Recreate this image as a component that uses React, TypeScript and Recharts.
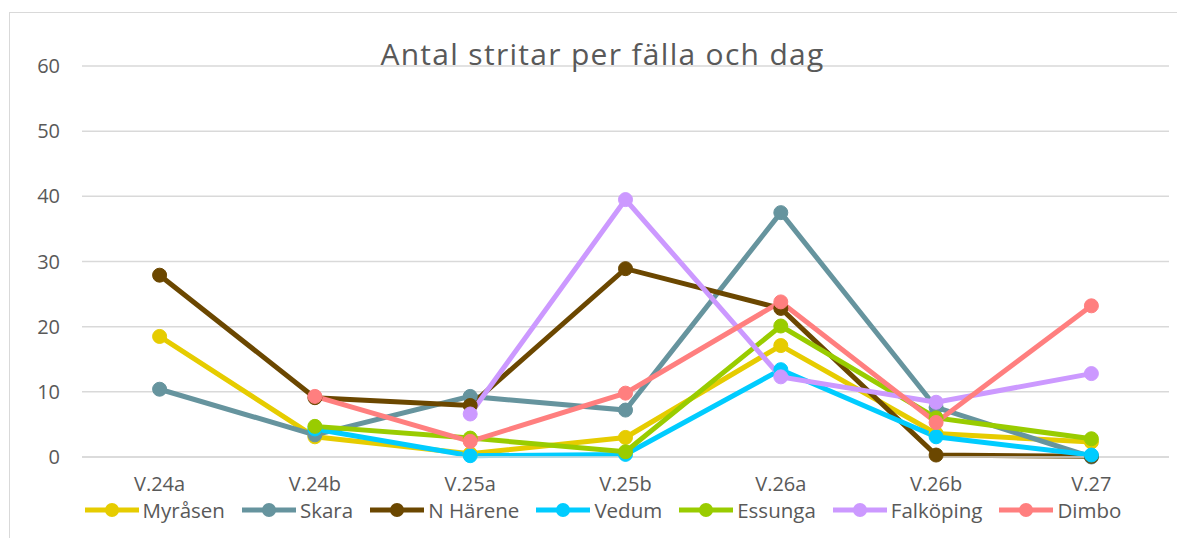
import { LineChart, Line, XAxis, YAxis, CartesianGrid } from 'recharts';

const weeks = ['V.24a', 'V.24b', 'V.25a', 'V.25b', 'V.26a', 'V.26b', 'V.27'];

const myrasen = [18.5, 3.1, 0.5, 3.0, 17.1, 3.6, 2.3];
const skara = [10.4, 3.4, 9.3, 7.2, 37.5, 7.6, 0.0];
const nHarene = [27.9, 9.1, 7.9, 28.9, 22.8, 0.3, 0.1];
const vedum = [null, 4.3, 0.2, 0.4, 13.4, 3.1, 0.3];
const essunga = [null, 4.7, 2.9, 0.8, 20.1, 6.0, 2.8];
const falkoping = [null, null, 6.6, 39.5, 12.3, 8.4, 12.8];
const dimbo = [null, 9.3, 2.4, 9.8, 23.8, 5.3, 23.2];

const yTicks = [0, 10, 20, 30, 40, 50, 60];

const series = [
    { key: 'myrasen', label: 'Myråsen', color: '#E6CC00', values: myrasen },
    { key: 'skara', label: 'Skara', color: '#66949E', values: skara },
    { key: 'nHarene', label: 'N Härene', color: '#6B4700', values: nHarene },
    { key: 'vedum', label: 'Vedum', color: '#00CCFF', values: vedum },
    { key: 'essunga', label: 'Essunga', color: '#99CC00', values: essunga },
    { key: 'falkoping', label: 'Falköping', color: '#CC99FF', values: falkoping },
    { key: 'dimbo', label: 'Dimbo', color: '#FF7F7F', values: dimbo },
];

const data = weeks.map((week, i) => {
    const row: any = { week };
    series.forEach((s) => {
        row[s.key] = s.values[i];
    });
    return row;
});

const FONT = "'Open Sans', 'DejaVu Sans', sans-serif";
const TEXT = '#595959';

export default function App() {
    return (
        <div style={{ position: 'absolute', left: 0, top: 0, width: 1177, height: 538, background: '#fff', overflow: 'hidden', fontFamily: FONT }}>
            {/* chart frame */}
            <div style={{ position: 'absolute', left: 9, top: 12, width: 1200, height: 560, border: '1.5px solid #d9d9d9', boxSizing: 'border-box' }} />

            <LineChart
                width={1177}
                height={538}
                data={data}
                margin={{ top: 66, right: 8, left: 20, bottom: 51 }}
                style={{ position: 'absolute', left: 0, top: 0 }}
            >
                <CartesianGrid vertical={false} stroke="#d9d9d9" strokeWidth={1.5} />
                <XAxis
                    dataKey="week"
                    height={30}
                    padding={{ left: 77.6, right: 77.6 }}
                    axisLine={{ stroke: '#d9d9d9', strokeWidth: 1.5 }}
                    tickLine={false}
                    tickSize={0}
                    tickMargin={20}
                    tick={{ fill: TEXT, fontSize: 20, fontFamily: FONT }}
                    interval={0}
                />
                <YAxis
                    width={62}
                    domain={[0, 60]}
                    ticks={yTicks}
                    axisLine={false}
                    tickLine={false}
                    tickSize={0}
                    tickMargin={22}
                    tick={{ fill: TEXT, fontSize: 20, fontFamily: FONT }}
                />
                {series.map((s) => (
                    <Line
                        key={s.key}
                        dataKey={s.key}
                        name={s.label}
                        stroke={s.color}
                        strokeWidth={5}
                        dot={{ r: 7, fill: s.color, stroke: s.color, strokeWidth: 1 }}
                        activeDot={false}
                        isAnimationActive={false}
                        type="linear"
                    />
                ))}
            </LineChart>

            {/* title */}
            <div style={{ position: 'absolute', left: 0, width: 1205, top: 34, textAlign: 'center', fontSize: 30, color: TEXT, letterSpacing: 1.3, lineHeight: '40px' }}>
                Antal stritar per fälla och dag
            </div>

            {/* legend */}
            <div style={{ position: 'absolute', left: 10, width: 1186, top: 496, height: 28, display: 'flex', justifyContent: 'center', alignItems: 'center', gap: 17 }}>
                {series.map((s) => (
                    <div key={s.key} style={{ display: 'flex', alignItems: 'center' }}>
                        <svg width={54} height={16} style={{ marginRight: 4 }}>
                            <line x1={0} y1={8} x2={54} y2={8} stroke={s.color} strokeWidth={5} />
                            <circle cx={27} cy={8} r={7} fill={s.color} />
                        </svg>
                        <span style={{ fontSize: 20.5, color: TEXT, lineHeight: '28px' }}>{s.label}</span>
                    </div>
                ))}
            </div>
        </div>
    );
}
